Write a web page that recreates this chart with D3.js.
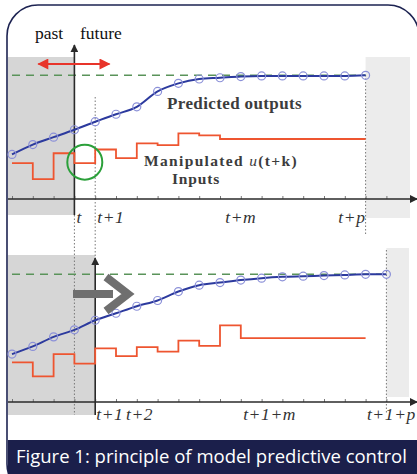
<!DOCTYPE html>
<html><head><meta charset="utf-8">
<script src="https://cdn.jsdelivr.net/npm/d3@7"></script>
<style>html,body{margin:0;padding:0;background:#fff;overflow:hidden}svg{display:block}</style>
</head><body>
<svg id="c" width="417" height="474"></svg>
<script>
// ---- data (abstract units, 0 = time axis, 100 = set-point) ----
const topSteps = [-3,-2,-1,0,1,2,3,4,5,6,7,8,9,10,11,12,13,14];
const topOutputs = [36,44,50,56,62.5,68.5,74.5,87,93.5,97,98,99,99.5,99.5,99.5,99.5,99.5,100];
const topInputStarts = [-3,-2,-1,0,1,2,3,4,5,6,7];
const topInputs = [29,16,37,29,40,33,45,43.5,53,51.5,48.5];
const topInputEnd = 14;
const topLabels = ["t","t+1","t+m","t+p"];
const topLabelSteps = [0,1,8,14];

const botSteps = [-3,-2,-1,0,1,2,3,4,5,6,7,8,9,10,11,12,13,14,15];
const botOutputs = [37.5,43.5,51,56.5,64,69.5,75,79.5,86.5,91.5,93.5,95.5,97,98,98.5,99,99.5,100,100];
const botInputStarts = [-3,-2,-1,0,1,2,3,4,5,6,7,8];
const botInputs = [31,20,37.5,30,42,36,43,39.5,48,44,60,50];
const botInputEnd = 14;
const botLabels = ["t+1","t+2","t+1+m","t+1+p"];
const botLabelSteps = [1,2,9,15];

const setPoint = 100;
const caption = "Figure 1: principle of model predictive control";

// ---- drawing ----
const svg = d3.select("#c");
const x = d3.scaleLinear().domain([-3, 15]).range([12, 386.4]);
const yT = d3.scaleLinear().domain([0, 100]).range([199, 75.3]);
const yB = d3.scaleLinear().domain([0, 100]).range([402, 274.3]);

const defs = svg.append("defs");
function marker(id, color, w, h){
  const m = defs.append("marker").attr("id", id).attr("viewBox","0 0 10 10")
    .attr("refX",9).attr("refY",5).attr("markerWidth",w).attr("markerHeight",h)
    .attr("orient","auto-start-reverse").attr("markerUnits","userSpaceOnUse");
  m.append("path").attr("d","M0,0 L10,5 L0,10 z").attr("fill",color);
}
marker("ax","#2a2a2a",8,8);
marker("red","#e8342a",12,11);

// frame
svg.append("rect").attr("x",7).attr("y",5).attr("width",412).attr("height",490)
  .attr("rx",31).attr("fill","#fff").attr("stroke","#1d2352").attr("stroke-width",1.6);

// shaded regions
svg.append("rect").attr("x",8).attr("y",57).attr("width",x(0)-8).attr("height",158).attr("fill","#d6d6d6");
svg.append("rect").attr("x",x(14)).attr("y",57).attr("width",410-x(14)).attr("height",161).attr("fill","#ececec");
svg.append("rect").attr("x",8).attr("y",255).attr("width",x(1)-8).attr("height",160).attr("fill","#d6d6d6");
svg.append("rect").attr("x",x(15)).attr("y",248).attr("width",409-x(15)).attr("height",149).attr("fill","#ececec");

// dotted guides
function dotted(xx, y1, y2){
  svg.append("line").attr("x1",xx).attr("x2",xx).attr("y1",y1).attr("y2",y2)
    .attr("stroke","#777").attr("stroke-width",1).attr("stroke-dasharray","1.5,2");
}
dotted(x(1), 97, 258);
dotted(x(0), 215, 415);
dotted(x(14), 75, 236);
dotted(x(15), 250, 414);

// set-point dashed lines
function setLine(y, xEnd){
  svg.append("line").attr("x1",x(-3)).attr("x2",xEnd).attr("y1",y(setPoint)).attr("y2",y(setPoint))
    .attr("stroke","#5a935a").attr("stroke-width",1.5).attr("stroke-dasharray","8,6");
}
setLine(yT, x(14));
setLine(yB, x(15));

// minor ticks + axes
function timeAxis(yPix, vx, vTop, vBot){
  svg.append("g").attr("transform",`translate(0,${yPix})`)
    .call(d3.axisTop(x).tickValues(d3.range(-3,16)).tickSize(3).tickFormat(""))
    .call(g=>g.select(".domain").remove())
    .call(g=>g.selectAll("line").attr("stroke","#777"));
  svg.append("line").attr("x1",8).attr("x2",417).attr("y1",yPix).attr("y2",yPix)
    .attr("stroke","#2a2a2a").attr("stroke-width",1.6).attr("marker-end","url(#ax)");
  svg.append("line").attr("x1",vx).attr("x2",vx).attr("y1",vBot).attr("y2",vTop)
    .attr("stroke","#2a2a2a").attr("stroke-width",1.6).attr("marker-end","url(#ax)");
}
timeAxis(yT(0), x(0), 45, 215);
timeAxis(yB(0), x(1), 258, 415);

// inputs (step lines)
function steps(starts, vals, end, y){
  const pts = starts.map((s,i)=>[s, vals[i]]);
  pts.push([end, vals[vals.length-1]]);
  svg.append("path").datum(pts)
    .attr("d", d3.line().x(d=>x(d[0])).y(d=>y(d[1])).curve(d3.curveStepAfter))
    .attr("fill","none").attr("stroke","#ee5530").attr("stroke-width",1.8);
}
steps(topInputStarts, topInputs, topInputEnd, yT);
steps(botInputStarts, botInputs, botInputEnd, yB);

// outputs
function outputs(st, vals, y){
  const pts = st.map((s,i)=>[s, vals[i]]);
  svg.append("path").datum(pts)
    .attr("d", d3.line().x(d=>x(d[0])).y(d=>y(d[1])).curve(d3.curveMonotoneX))
    .attr("fill","none").attr("stroke","#2c3a9e").attr("stroke-width",2);
  svg.append("g").selectAll("circle").data(pts).join("circle")
    .attr("cx",d=>x(d[0])).attr("cy",d=>y(d[1])).attr("r",4)
    .attr("fill","none").attr("stroke","#8b90d8").attr("stroke-width",1.2);
}
outputs(topSteps, topOutputs, yT);
outputs(botSteps, botOutputs, yB);

// red double arrow
svg.append("line").attr("x1",x(0)-36).attr("x2",x(0)+35).attr("y1",64).attr("y2",64)
  .attr("stroke","#e8342a").attr("stroke-width",2)
  .attr("marker-start","url(#red)").attr("marker-end","url(#red)");

// green circle
svg.append("circle").attr("cx",(x(0)+x(1))/2).attr("cy",yT(topInputs[3])-1).attr("r",17.5)
  .attr("fill","none").attr("stroke","#2ba03a").attr("stroke-width",2);

// gray shift arrow
const ay = 294;
svg.append("line").attr("x1",73).attr("x2",113).attr("y1",ay).attr("y2",ay)
  .attr("stroke","#6f6f6f").attr("stroke-width",8);
svg.append("path").attr("d",`M106,${ay-17} L128,${ay} L106,${ay+17}`)
  .attr("fill","none").attr("stroke","#6f6f6f").attr("stroke-width",8).attr("stroke-linejoin","miter");

// text helpers
function fitText(sel, w){
  const n = sel.node(); const fs = parseFloat(sel.attr("font-size"));
  const L = n.getComputedTextLength();
  if (L>0) sel.attr("font-size", fs*w/L);
  return sel;
}
function spreadText(sel, w){
  const n = sel.node(); const L = n.getComputedTextLength();
  const k = sel.text().length;
  if (L>0 && k>1) sel.attr("letter-spacing", ((w-L)/k).toFixed(2));
  return sel;
}
const serif = "'Liberation Serif','Times New Roman',serif";
svg.append("text").attr("x",35).attr("y",39).attr("font-family",serif).attr("font-size",17.5).attr("fill","#111").text("past");
svg.append("text").attr("x",80).attr("y",39).attr("font-family",serif).attr("font-size",17.5).attr("fill","#111").text("future");

spreadText(svg.append("text").attr("x",167).attr("y",109).attr("font-family",serif).attr("font-weight","bold")
  .attr("font-size",17).attr("fill","#3c3c3c").text("Predicted outputs"),135);
const man = svg.append("text").attr("x",144).attr("y",166).attr("font-family",serif).attr("font-weight","bold")
  .attr("font-size",15.5).attr("fill","#3c3c3c");
man.append("tspan").text("Manipulated ");
man.append("tspan").attr("font-style","italic").attr("font-weight","normal").text("u");
man.append("tspan").text("(t+k)");
spreadText(man,154);
spreadText(svg.append("text").attr("x",172).attr("y",184).attr("font-family",serif).attr("font-weight","bold")
  .attr("font-size",15.5).attr("fill","#3c3c3c").text("Inputs"),48);

// tick labels
function tickLabels(labels, stepsArr, yPix, anchors, dxs){
  svg.append("g").selectAll("text").data(labels).join("text")
    .attr("x",(d,i)=>x(stepsArr[i])+dxs[i]).attr("y",yPix)
    .attr("text-anchor",(d,i)=>anchors[i])
    .attr("font-family",serif).attr("font-style","italic").attr("font-size",17.5)
    .attr("letter-spacing",0.6)
    .attr("fill","#333").text(d=>d);
}
tickLabels(topLabels, topLabelSteps, yT(0)+24, ["start","start","middle","end"], [2,2,0,0]);
tickLabels(botLabels, botLabelSteps, yB(0)+18, ["start","start","middle","middle"], [1,10,8,5]);

// caption bar
svg.append("rect").attr("x",8).attr("y",440).attr("width",409).attr("height",34).attr("fill","#1b1f4b");
fitText(svg.append("text").attr("x",16).attr("y",463).attr("font-family","'Open Sans',sans-serif")
  .attr("font-size",18).attr("fill","#fff").text(caption),391);
</script>
</body></html>
